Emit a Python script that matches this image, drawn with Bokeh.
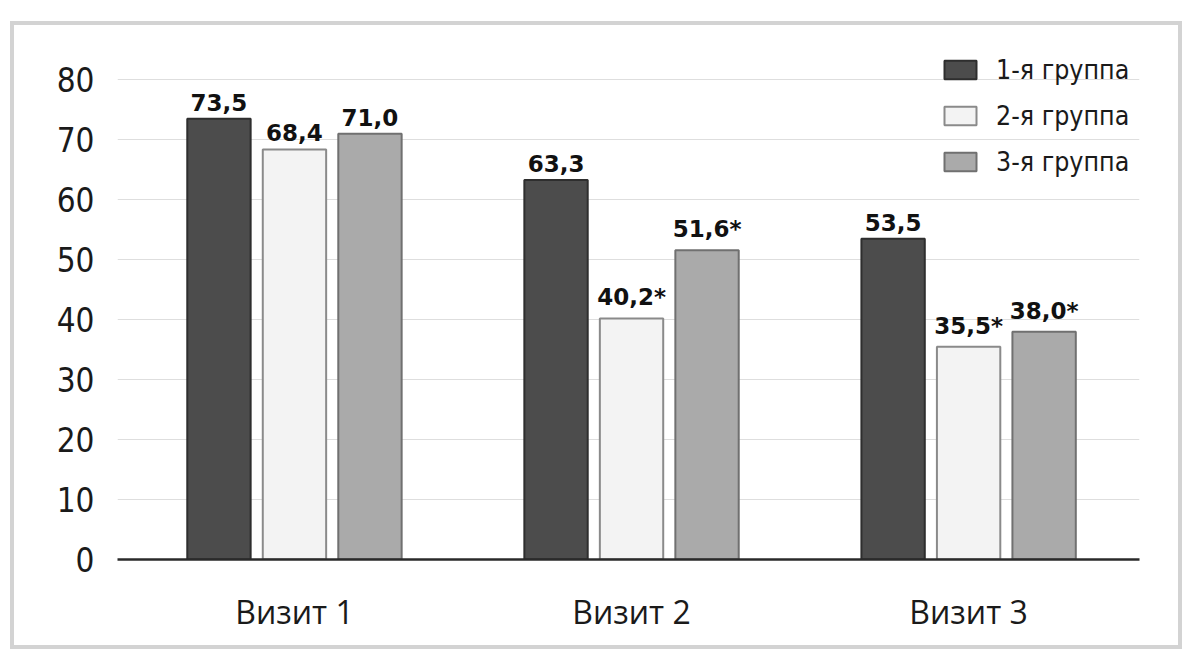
from bokeh.plotting import figure
from bokeh.models import ColumnDataSource, Legend, LegendItem, FixedTicker, Range1d
from bokeh.transform import dodge
from bokeh.core.properties import value
from bokeh.embed import file_html
from bokeh.resources import INLINE

visits = ["Визит 1", "Визит 2", "Визит 3"]
groups = ["1-я группа", "2-я группа", "3-я группа"]
group1 = [73.5, 63.3, 53.5]
group2 = [68.4, 40.2, 35.5]
group3 = [71.0, 51.6, 38.0]
labels1 = ["73,5", "63,3", "53,5"]
labels2 = ["68,4", "40,2*", "35,5*"]
labels3 = ["71,0", "51,6*", "38,0*"]
y_ticks = [0, 10, 20, 30, 40, 50, 60, 70, 80]

COND = "'DejaVu Sans Condensed', Lato"

xpos = list(range(len(visits)))
src = ColumnDataSource(dict(x=xpos, g1=group1, g2=group2, g3=group3,
                            l1=labels1, l2=labels2, l3=labels3))

p = figure(width=1172, height=628, output_backend="svg", toolbar_location=None,
           x_range=Range1d(-0.525, 2.507), y_range=Range1d(0, 86.9),
           min_border_left=103, min_border_right=47, min_border_top=13, min_border_bottom=94)
p.margin = (21, 0, 0, 10)
p.styles = {"border": "4px solid #d3d3d3", "box-sizing": "border-box"}
p.outline_line_color = None
p.background_fill_color = "white"
p.border_fill_color = "white"

p.xgrid.grid_line_color = None
p.ygrid.ticker = FixedTicker(ticks=y_ticks[1:])
p.ygrid.grid_line_color = "#dedede"
p.ygrid.grid_line_width = 1

W = 0.188
OFF = 0.224
fills = ["#4c4c4c", "#f3f3f3", "#aaaaaa"]
lines = ["#2e2e2e", "#8a8a8a", "#707070"]
cols = ["g1", "g2", "g3"]
lcols = ["l1", "l2", "l3"]
offs = [-OFF, 0.0, OFF]
rends = []
for c, lc, o, f, lcol in zip(cols, lcols, offs, fills, lines):
    r = p.vbar(x=dodge("x", o, range=p.x_range), top=c, width=W, bottom=0, source=src,
               fill_color=f, line_color=lcol, line_width=2)
    rends.append(r)
    p.text(x=dodge("x", o, range=p.x_range), y=c, text=lc, source=src,
           text_align="center", text_baseline="bottom", y_offset=-8,
           text_font=value("DejaVu Sans"), text_font_style="bold",
           text_font_size="23px", text_color="#111111")

# axes
p.xaxis.ticker = FixedTicker(ticks=xpos)
p.xaxis.major_label_overrides = {i: v for i, v in zip(xpos, visits)}
p.xaxis.major_tick_line_color = None
p.xaxis.minor_tick_line_color = None
p.xaxis.axis_line_color = "#2a2a2a"
p.xaxis.axis_line_width = 2.5
p.xaxis.major_label_text_font = "Open Sans"
p.xaxis.major_label_text_font_size = "32px"
p.xaxis.major_label_text_color = "#1a1a1a"
p.xaxis.major_label_standoff = 24

p.yaxis.ticker = FixedTicker(ticks=y_ticks)
p.yaxis.axis_line_color = None
p.yaxis.major_tick_line_color = None
p.yaxis.minor_tick_line_color = None
p.yaxis.major_label_text_font = COND
p.yaxis.major_label_text_font_size = "33px"
p.yaxis.major_label_text_color = "#1a1a1a"
p.yaxis.major_label_standoff = 17

legend = Legend(items=[LegendItem(label=g, renderers=[r]) for g, r in zip(groups, rends)],
                location=(823, 382), orientation="vertical")
legend.glyph_width = 40
legend.glyph_height = 23
legend.label_height = 23
legend.spacing = 15
legend.padding = 0
legend.margin = 0
legend.label_standoff = 16
legend.border_line_color = None
legend.background_fill_alpha = 0
legend.label_text_font = COND
legend.label_text_font_size = "26.5px"
legend.label_text_color = "#1a1a1a"
legend.label_text_baseline = "middle"
p.add_layout(legend)

open("out.html", "w").write(file_html(p, INLINE))
